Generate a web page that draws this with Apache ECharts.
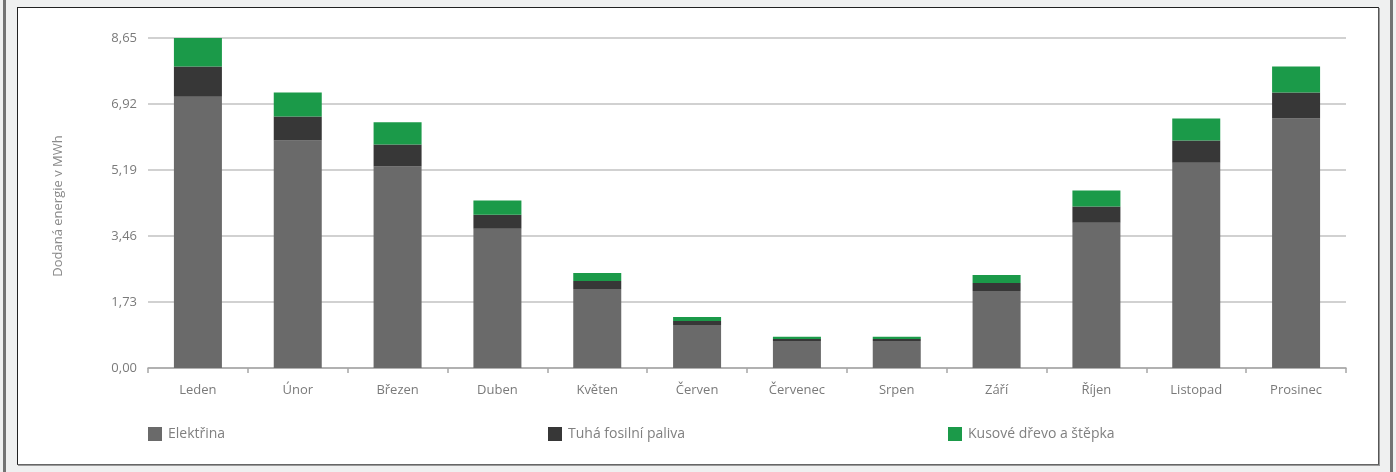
<!DOCTYPE html>
<html>
<head>
<meta charset="utf-8">
<script src="https://cdn.jsdelivr.net/npm/echarts@6/dist/echarts.min.js"></script>
<style>
  html, body { margin:0; padding:0; width:1396px; height:472px; background:#eff0f0; overflow:hidden; }
  .barL { position:absolute; left:3px; top:0; width:3px; height:472px; background:#737373; }
  .barR { position:absolute; left:1390px; top:0; width:3px; height:472px; background:#737373; }
  .box { position:absolute; left:17px; top:7px; width:1360px; height:456px; background:#fff; border:1px solid #222; border-right-color:#555; border-bottom-color:#666; box-shadow:1px 1px 0 #9a9a9a; }
  #chart { position:absolute; left:0; top:0; width:1396px; height:472px; }
</style>
</head>
<body>
<div class="barL"></div>
<div class="barR"></div>
<div class="box"></div>
<div id="chart"></div>
<script>
const categories = ['Leden','Únor','Březen','Duben','Květen','Červen','Červenec','Srpen','Září','Říjen','Listopad','Prosinec'];
const elektrina = [7.11, 5.96, 5.28, 3.65, 2.07, 1.13, 0.71, 0.71, 2.02, 3.81, 5.38, 6.54];
const tuhaPaliva = [0.79, 0.63, 0.58, 0.37, 0.21, 0.105, 0.053, 0.053, 0.21, 0.42, 0.58, 0.68];
const drevo = [0.79, 0.63, 0.58, 0.37, 0.21, 0.105, 0.053, 0.053, 0.21, 0.42, 0.58, 0.68];
const yTickLabels = ['0,00','1,73','3,46','5,19','6,92','8,65'];
const seriesNames = ['Elektřina','Tuhá fosilní paliva','Kusové dřevo a štěpka'];

const colors = ['#6a6a6a', '#373737', '#1b9a49'];
const chart = echarts.init(document.getElementById('chart'), null, {renderer:'canvas'});
const font = '"Open Sans", "Noto Sans", sans-serif';
const legendBase = (i, left) => ({
  data: [seriesNames[i]], left: left, top: 427, itemWidth: 14, itemHeight: 14, icon: 'rect',
  itemGap: 0, padding: 0,
  textStyle: { color: '#808080', fontSize: 14, fontFamily: font, padding: [0,0,0,1] },
  selectedMode: false
});
chart.setOption({
  animation: false,
  color: colors,
  grid: { left: 148, right: 50, top: 38, bottom: 104, containLabel: false },
  legend: [legendBase(0, 148), legendBase(1, 548), legendBase(2, 948)],
  xAxis: {
    type: 'category', data: categories,
    axisLine: { lineStyle: { color: '#a6a6a6', width: 1.5 } },
    axisTick: { show: true, length: 5, lineStyle: { color: '#a6a6a6', width: 1.5 } },
    axisLabel: { color: '#7a7a7a', fontSize: 13, fontFamily: font, margin: 16 }
  },
  yAxis: {
    type: 'value', min: 0, max: 8.65, interval: 1.73,
    name: 'Dodaná energie v MWh', nameLocation: 'middle', nameGap: 83, nameRotate: 90,
    nameTextStyle: { color: '#8a8a8a', fontSize: 13, fontFamily: font, padding: [0, 6, 0, 0] },
    axisLine: { show: false }, axisTick: { show: false },
    axisLabel: {
      color: '#7a7a7a', fontSize: 13, fontFamily: font, margin: 11,
      formatter: v => { const i = Math.round(v / 1.73); return yTickLabels[i] !== undefined ? yTickLabels[i] : ''; }
    },
    splitLine: { lineStyle: { color: '#c2c2c2', width: 1.5 } }
  },
  series: [
    { name: seriesNames[0], type: 'bar', stack: 'a', data: elektrina, barWidth: 48 },
    { name: seriesNames[1], type: 'bar', stack: 'a', data: tuhaPaliva, barWidth: 48 },
    { name: seriesNames[2], type: 'bar', stack: 'a', data: drevo, barWidth: 48 }
  ]
});
</script>
</body>
</html>
